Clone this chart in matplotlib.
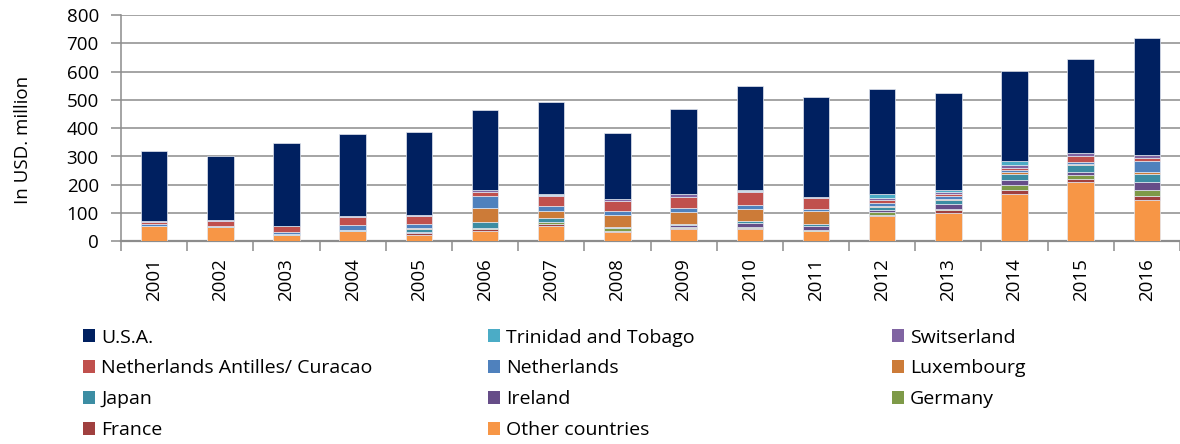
import matplotlib
matplotlib.use("Agg")
from matplotlib import pyplot as plt
from matplotlib.patches import Patch
import numpy as np

plt.rcParams['font.family'] = ['Open Sans', 'DejaVu Sans']

years = [str(y) for y in range(2001, 2017)]

# stacked from the bottom up, USD million
other_countries = [53, 52, 24, 36, 21, 35, 54, 33, 45, 45, 35, 89, 99, 169, 211, 148]
france          = [0, 0, 0, 0, 7, 8, 9, 4, 3, 3, 2, 5, 11, 14, 11, 12]
germany         = [0, 0, 0, 0, 2, 4, 5, 9, 4, 3, 2, 9, 3, 17, 13, 21]
ireland         = [0, 0, 0, 0, 2, 2, 0, 0, 5, 13, 17, 7, 20, 16, 11, 28]
japan           = [3, 1, 3, 3, 12, 18, 14, 6, 6, 8, 5, 10, 14, 21, 24, 28]
luxembourg      = [0, 0, 0, 0, 2, 52, 24, 42, 42, 44, 45, 5, 3, 8, 2, 8]
netherlands     = [4, 3, 6, 20, 15, 40, 18, 15, 12, 14, 9, 9, 9, 9, 10, 39]
neth_antilles   = [10, 17, 21, 26, 27, 17, 36, 33, 40, 43, 38, 14, 8, 7, 21, 12]
switzerland     = [2, 2, 2, 3, 6, 6, 5, 8, 9, 6, 4, 7, 6, 9, 11, 9]
trinidad        = [0, 0, 0, 0, 0, 0, 4, 0, 2, 2, 0, 14, 9, 14, 0, 2]
usa             = [246, 227, 290, 291, 292, 283, 323, 232, 299, 368, 352, 369, 341, 318, 331, 413]

series = [
    ("Other countries", other_countries, "#f79646"),
    ("France", france, "#a0403f"),
    ("Germany", germany, "#7e9a48"),
    ("Ireland", ireland, "#664d88"),
    ("Japan", japan, "#3c8da3"),
    ("Luxembourg", luxembourg, "#cc7b38"),
    ("Netherlands", netherlands, "#4f81bd"),
    ("Netherlands Antilles/ Curacao", neth_antilles, "#c0504d"),
    ("Switserland", switzerland, "#8064a2"),
    ("Trinidad and Tobago", trinidad, "#4bacc6"),
    ("U.S.A.", usa, "#002060"),
]

W, H = 1180, 444
fig = plt.figure(figsize=(W / 100, H / 100), dpi=100)
ax = fig.add_axes([121 / W, 1 - 241.4 / H, (W - 121) / W, (241.4 - 15) / H])

x = np.arange(len(years))
bottom = np.zeros(len(years))
for name, vals, col in series:
    ax.bar(x, vals, 0.4, bottom=bottom, color=col, edgecolor="#e4e8f0",
           linewidth=0.5, zorder=3)
    bottom += np.array(vals)

grey = "#8c8c8c"
ax.set_ylim(0, 800)
ax.set_xlim(-0.5, len(years) - 0.5)
ax.set_yticks(range(0, 801, 100))
ax.yaxis.grid(True, color=grey, linewidth=1.1)
ax.set_axisbelow(True)

ax.set_xticks(x)
ax.set_xticklabels(years, rotation=90)
ax.set_xticks(np.arange(-0.5, len(years)), minor=True)
ax.tick_params(axis="x", which="major", length=0, pad=12, labelsize=13.5)
ax.tick_params(axis="x", which="minor", length=7, width=1.1, color=grey)
ax.tick_params(axis="y", length=7, width=1.1, color=grey, pad=9, labelsize=13.5)

for s in ("top", "right"):
    ax.spines[s].set_visible(False)
ax.spines["left"].set_color(grey)
ax.spines["left"].set_linewidth(1.1)
ax.spines["bottom"].set_color(grey)
ax.spines["bottom"].set_linewidth(1.6)

ax.set_ylabel("In USD. million", fontsize=13.5)
ax.yaxis.set_label_coords(-0.084, 0.45)

# legend laid out in three columns, read row by row from the top series down
items = [(name, col) for name, _, col in reversed(series)]
col_x = [83, 488, 892]
for i, cx in enumerate(col_x):
    handles = [Patch(facecolor=c, label=n) for n, c in items[i::3]]
    fig.legend(handles=handles, loc="upper left",
               bbox_to_anchor=(cx / W, 1 - 328.5 / H), frameon=False,
               fontsize=14, borderpad=0, borderaxespad=0,
               handlelength=0.63, handleheight=0.68, handletextpad=0.3,
               labelspacing=0.66)

fig.savefig("out.png", dpi=100)
